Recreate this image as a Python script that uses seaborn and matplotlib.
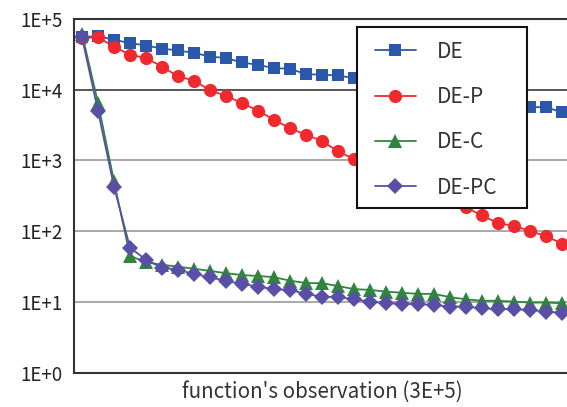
import numpy as np
import pandas as pd
import matplotlib
matplotlib.use("Agg")
import matplotlib.pyplot as plt
from matplotlib.patches import Rectangle
from matplotlib.ticker import LogLocator, FixedLocator, NullFormatter, FixedFormatter
import seaborn as sns

# Best objective value per evaluation checkpoint (30 checkpoints + start)
evals = list(range(31))
de = [55000, 57500, 50800, 45700, 42200, 38200, 35900, 33200, 29500, 28000,
      24300, 22500, 20200, 19800, 16600, 16300, 15900, 14600, 13800, 12900,
      11800, 10900, 10200, 9300, 8600, 7800, 7000, 6300, 5700, 5650, 4800]
de_p = [54000, 55000, 40800, 31200, 28000, 21300, 15400, 13500, 9800, 8200,
        6460, 5080, 3750, 2860, 2300, 1890, 1340, 1050, 880, 720,
        590, 470, 370, 290, 217, 167, 130, 119, 101, 85, 67]
de_c = [62000, 6530, 505, 44.8, 36.5, 33.5, 31.5, 29.5, 27.5, 25.5,
        24.0, 23.3, 22.4, 20.0, 18.5, 18.4, 16.8, 15.2, 14.8, 14.0,
        13.5, 13.0, 13.0, 11.7, 10.9, 10.4, 10.4, 10.1, 9.8, 9.8, 9.6]
de_pc = [55000, 5020, 427, 58.6, 39.5, 30.6, 28.4, 24.9, 22.4, 19.8,
         18.0, 16.5, 15.1, 14.8, 13.0, 11.9, 11.7, 10.9, 10.1, 9.6,
         9.4, 9.3, 9.07, 8.6, 8.6, 8.15, 7.9, 7.9, 7.7, 7.3, 7.06]
series_names = ["DE", "DE-P", "DE-C", "DE-PC"]
y_tick_labels = ["1E+0", "1E+1", "1E+2", "1E+3", "1E+4", "1E+5"]
x_label = "function's observation (3E+5)"

df = pd.DataFrame({
    "eval": evals * 4,
    "value": de + de_p + de_c + de_pc,
    "series": sum([[n] * len(evals) for n in series_names], []),
})

sns.set_style("white")
plt.rcParams["font.family"] = ["Noto Sans CJK JP", "DejaVu Sans"]

palette = {"DE": "#2B58A8", "DE-P": "#EE2A2E", "DE-C": "#2F8540", "DE-PC": "#5A4FA6"}
markers = {"DE": "s", "DE-P": "o", "DE-C": "^", "DE-PC": "D"}
marker_sizes = {"s": 8.5, "o": 9.5, "^": 9.5, "D": 8.5}

fig = plt.figure(figsize=(5.67, 4.07), dpi=100)
# plot area continues slightly past the right edge of the canvas
ax = fig.add_axes([74 / 567, 34.3 / 407, 496 / 567, 353.7 / 407])

sns.lineplot(data=df, x="eval", y="value", hue="series", style="series",
             palette=palette, markers=markers, dashes=False, ax=ax,
             linewidth=1.3, markersize=9, markeredgewidth=0, legend="full")
for ln in ax.lines:
    ln.set_markersize(marker_sizes.get(ln.get_marker(), 9))

ax.set_yscale("log")
ax.set_ylim(1, 1e5)
ax.set_xlim(-0.5, 30.5)

# y axis: decades with labels, minor ticks inside
ax.yaxis.set_major_locator(FixedLocator([1, 10, 100, 1e3, 1e4, 1e5]))
ax.yaxis.set_major_formatter(FixedFormatter(y_tick_labels))
ax.yaxis.set_minor_locator(LogLocator(base=10, subs=np.arange(2, 10)))
ax.yaxis.set_minor_formatter(NullFormatter())
ax.tick_params(axis="y", which="major", direction="in", length=6, width=1,
               color="#333333", labelsize=13.5, pad=8, labelcolor="#222222")
ax.tick_params(axis="y", which="minor", direction="in", length=5, width=0.8,
               color="#444444")

# x axis: ticks between checkpoints, no labels
ax.xaxis.set_major_locator(FixedLocator(np.arange(0.5, 30.0, 1.0)))
ax.xaxis.set_major_formatter(NullFormatter())
ax.tick_params(axis="x", which="major", direction="in", length=8, width=1,
               color="#444444")
ax.set_xlabel(x_label, fontsize=14.8, color="#333333", labelpad=2)
ax.set_ylabel("")

# horizontal gridlines per decade
for v in [10, 100, 1e3, 1e4]:
    ax.axhline(v, color="#3a3a3a" if v == 1e4 else "#9a9a9a", lw=1.2, zorder=0.5)

for side in ["left", "bottom", "top", "right"]:
    ax.spines[side].set_color("#333333")
    ax.spines[side].set_linewidth(1.5)

# legend box drawn as its own opaque frame
to_ax = lambda px, py: ((px - 74) / 496, (372.7 - py) / 353.7)
x0, y0 = to_ax(357, 208)
x1, y1 = to_ax(527, 27)
ax.add_patch(Rectangle((x0, y0), x1 - x0, y1 - y0, transform=ax.transAxes,
                       facecolor="white", edgecolor="#111111", linewidth=1.5,
                       zorder=9, clip_on=False))

handles, labels = ax.get_legend_handles_labels()
lx, ly = to_ax(375, 40.5)
leg = ax.legend(handles, labels, loc="upper left", bbox_to_anchor=(lx, ly),
                borderaxespad=0, frameon=False, fontsize=15,
                labelspacing=1.12, handlelength=1.95, handletextpad=1.0,
                borderpad=0)
for t in leg.get_texts():
    t.set_color("#333333")
leg.set_zorder(10)

fig.savefig("out.png", dpi=100)
